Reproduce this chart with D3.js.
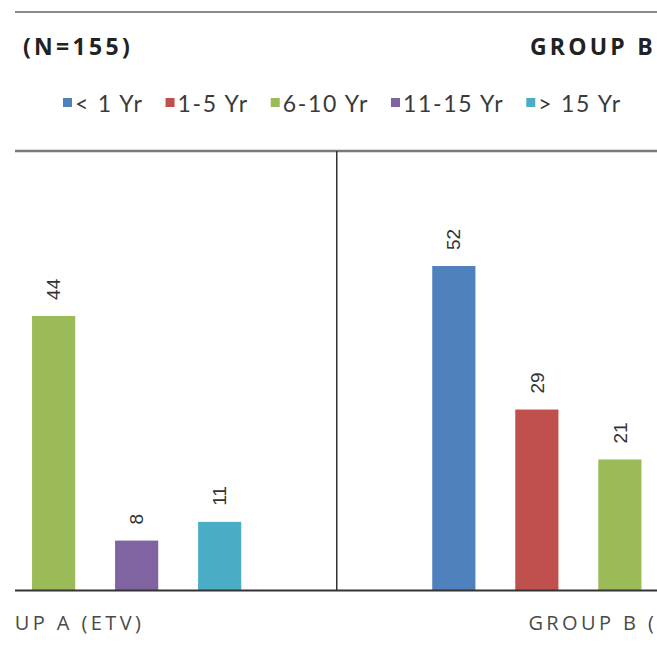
<!DOCTYPE html>
<html>
<head>
<meta charset="utf-8">
<script src="https://cdn.jsdelivr.net/npm/d3@7"></script>
<style>
  html, body { margin: 0; padding: 0; background: #fff; }
  svg { display: block; }
</style>
</head>
<body>
<div id="chart"></div>
<script>
// data (bars outside the crop are unknown -> null)
const groups = ["GROUP A (ETV)", "GROUP B ("];
const categories = ["< 1 Yr", "1-5 Yr", "6-10 Yr", "11-15 Yr", "> 15 Yr"];
const groupA = [null, null, 44, 8, 11];
const groupB = [52, 29, 21, null, null];
const colors = ["#4f81bd", "#c0504d", "#9bbb59", "#8064a2", "#4bacc6"];
const titles = ["(N=155)", "GROUP B"];

const width = 657, height = 646;
const baseY = 590.5;

const svg = d3.select("#chart").append("svg")
  .attr("width", width)
  .attr("height", height);

svg.append("defs").append("clipPath").attr("id", "clip")
  .append("rect").attr("x", 15).attr("y", 0).attr("width", width - 15).attr("height", height);

const g = svg.append("g").attr("clip-path", "url(#clip)");

// group scale - chart continues past both edges of the crop
const x0 = d3.scaleBand().domain(groups).range([-229.5, 903]);
const x1 = d3.scaleBand().domain(categories).range([0, x0.bandwidth()])
  .paddingInner(0.48).paddingOuter(1.15);
const y = d3.scaleLinear().domain([0, 60]).range([baseY, baseY - 60 * 6.24]);
const color = d3.scaleOrdinal().domain(categories).range(colors);

const rows = [groupA, groupB].flatMap((vals, gi) =>
  vals.map((v, i) => ({ group: groups[gi], cat: categories[i], value: v }))
).filter(d => d.value != null);

// frame lines
g.append("line").attr("x1", 15).attr("x2", width).attr("y1", 12).attr("y2", 12)
  .attr("stroke", "#8a8a8a").attr("stroke-width", 2);
g.append("line").attr("x1", 15).attr("x2", width).attr("y1", 151).attr("y2", 151)
  .attr("stroke", "#7a7a7a").attr("stroke-width", 2.5);

// titles
g.append("text").attr("x", 23).attr("y", 55)
  .attr("font-family", "Open Sans").attr("font-weight", "bold")
  .attr("font-size", 23).attr("letter-spacing", 3.3).attr("fill", "#222")
  .text(titles[0]);
g.append("text").attr("x", 530).attr("y", 55)
  .attr("font-family", "Open Sans").attr("font-weight", "bold")
  .attr("font-size", 23).attr("letter-spacing", 3.2).attr("fill", "#222")
  .text(titles[1]);

// legend
const legend = g.append("g").attr("transform", "translate(63,0)");
let lx = 0;
categories.forEach((c, i) => {
  const item = legend.append("g").attr("transform", `translate(${lx},0)`);
  item.append("rect").attr("x", 0).attr("y", 98).attr("width", 9).attr("height", 9)
    .attr("fill", color(c));
  const t = item.append("text").attr("x", 12).attr("y", 112)
    .attr("font-family", "Lato").attr("font-size", 23).attr("letter-spacing", 1.7)
    .attr("fill", "#3a3a3a").text(c);
  lx += 12 + t.node().getComputedTextLength() + 22;
});

// bars
g.selectAll(".bar").data(rows).enter().append("rect")
  .attr("class", "bar")
  .attr("x", d => x0(d.group) + x1(d.cat))
  .attr("y", d => y(d.value))
  .attr("width", x1.bandwidth())
  .attr("height", d => y(0) - y(d.value))
  .attr("fill", d => color(d.cat));

// value labels, rotated
g.selectAll(".val").data(rows).enter().append("text")
  .attr("class", "val")
  .attr("transform", d => `translate(${x0(d.group) + x1(d.cat) + x1.bandwidth() / 2},${y(d.value) - 16}) rotate(-90)`)
  .attr("dy", "0.35em")
  .attr("font-family", "Liberation Sans").attr("font-size", 19)
  .attr("fill", "#333")
  .text(d => d.value);

// divider between groups and baseline
g.append("line").attr("x1", x0(groups[1])).attr("x2", x0(groups[1]))
  .attr("y1", 151).attr("y2", baseY)
  .attr("stroke", "#333").attr("stroke-width", 1.5);
g.append("line").attr("x1", 15).attr("x2", width).attr("y1", baseY).attr("y2", baseY)
  .attr("stroke", "#333").attr("stroke-width", 2);

// group labels (start a fixed distance left of the group centre, as in the source)
g.selectAll(".grp").data(groups).enter().append("text")
  .attr("class", "grp")
  .attr("x", d => x0(d) + x0.bandwidth() / 2 - 91.5)
  .attr("y", 630)
  .attr("font-family", "Open Sans").attr("font-size", 20)
  .attr("letter-spacing", 3.4).attr("fill", "#4a4a4a")
  .text(d => d);
</script>
</body>
</html>
